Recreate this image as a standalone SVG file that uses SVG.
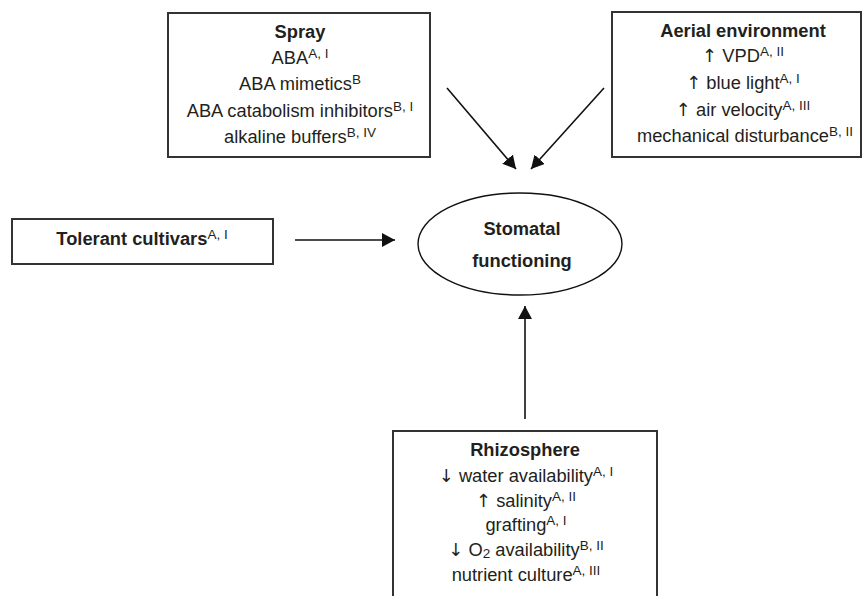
<svg xmlns="http://www.w3.org/2000/svg" width="865" height="596" viewBox="0 0 865 596">
<style>
.box{fill:#fff;stroke:#333;stroke-width:2}
.t{font-family:"Liberation Sans",Arial,sans-serif;font-size:18.3px;fill:#231f20;text-anchor:middle}
.b{font-weight:bold}
.sup{font-size:13.5px;font-weight:normal}
.ar{font-family:"DejaVu Sans",sans-serif;font-size:18px}
.con{stroke:#111;stroke-width:1.6;fill:none;marker-end:url(#ah)}
</style>
<defs>
<marker id="ah" markerUnits="userSpaceOnUse" markerWidth="13" markerHeight="14" refX="13" refY="7" orient="auto">
<path d="M0,0 L13,7 L0,14 z" fill="#111"/>
</marker>
</defs>
<rect width="865" height="596" fill="#fff"/>
<g id="connectors">
<line class="con" x1="447" y1="88" x2="516" y2="169"/>
<line class="con" x1="604" y1="88" x2="531" y2="169"/>
<line class="con" x1="295" y1="240" x2="395" y2="240"/>
<line class="con" x1="525" y1="419" x2="525" y2="306"/>
</g>
<g id="spray">
<rect class="box" x="168" y="13" width="262" height="144"/>
<text class="t b" x="300" y="38">Spray</text>
<text class="t" x="300" y="64">ABA<tspan class="sup" dy="-6">A, I</tspan></text>
<text class="t" x="300" y="90">ABA mimetics<tspan class="sup" dy="-6">B</tspan></text>
<text class="t" x="300" y="117">ABA catabolism inhibitors<tspan class="sup" dy="-6">B, I</tspan></text>
<text class="t" x="300" y="143">alkaline buffers<tspan class="sup" dy="-6">B, IV</tspan></text>
</g>
<g id="aerial">
<rect class="box" x="612" y="12" width="249" height="145"/>
<text class="t b" x="743" y="37">Aerial environment</text>
<text class="t" x="743" y="62"><tspan class="ar">↑</tspan> VPD<tspan class="sup" dy="-6">A, II</tspan></text>
<text class="t" x="743" y="89"><tspan class="ar">↑</tspan> blue light<tspan class="sup" dy="-6">A, I</tspan></text>
<text class="t" x="743" y="116"><tspan class="ar">↑</tspan> air velocity<tspan class="sup" dy="-6">A, III</tspan></text>
<text class="t" x="745" y="142">mechanical disturbance<tspan class="sup" dy="-6">B, II</tspan></text>
</g>
<g id="tolerant">
<rect class="box" x="12" y="219" width="261" height="45"/>
<text class="t b" x="142" y="245">Tolerant cultivars<tspan class="sup" dy="-6">A, I</tspan></text>
</g>
<g id="stomatal">
<ellipse cx="520" cy="244" rx="102" ry="51" fill="#fff" stroke="#111" stroke-width="1.4"/>
<text class="t b" x="522" y="235">Stomatal</text>
<text class="t b" x="522" y="267">functioning</text>
</g>
<g id="rhizosphere">
<rect class="box" x="393" y="431" width="264" height="175"/>
<text class="t b" x="525" y="456">Rhizosphere</text>
<text class="t" x="526" y="482"><tspan class="ar">↓</tspan> water availability<tspan class="sup" dy="-6">A, I</tspan></text>
<text class="t" x="526" y="507"><tspan class="ar">↑</tspan> salinity<tspan class="sup" dy="-6">A, II</tspan></text>
<text class="t" x="526" y="531">grafting<tspan class="sup" dy="-6">A, I</tspan></text>
<text class="t" x="526" y="556"><tspan class="ar">↓</tspan> O<tspan font-size="13.5" dy="2">2</tspan><tspan dy="-2"> availability</tspan><tspan class="sup" dy="-6">B, II</tspan></text>
<text class="t" x="526" y="581">nutrient culture<tspan class="sup" dy="-6">A, III</tspan></text>
</g>
</svg>
